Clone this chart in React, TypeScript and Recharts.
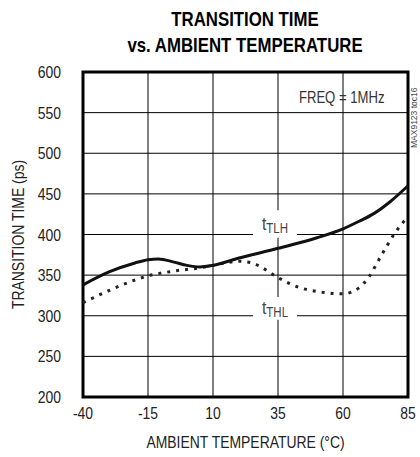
import React from "react";
import { LineChart, Line, XAxis, YAxis, CartesianGrid, ReferenceArea } from "recharts";

const xTicks = [-40, -15, 10, 35, 60, 85];
const yTicks = [200, 250, 300, 350, 400, 450, 500, 550, 600];

const tlhTemps = [-40, -30, -20, -15, -11, -5, 0, 5, 10, 20, 30, 35, 40, 50, 60, 66, 72, 78, 85];
const tlhValues = [338, 354, 365, 369, 370, 366, 362, 360, 362, 371, 379, 383, 387, 396, 407, 416, 426, 440, 460];

const thlTemps = [-40, -30, -20, -15, -5, 5, 10, 15, 20, 25, 29, 35, 43, 52, 60, 66, 70, 74, 80, 85];
const thlValues = [316, 331, 344, 349, 355, 359, 362, 365, 367, 365, 359, 347, 335, 329, 327, 334, 348, 370, 402, 422];

const tlhData = tlhTemps.map((t, i) => ({ t, v: tlhValues[i] }));
const thlData = thlTemps.map((t, i) => ({ t, v: thlValues[i] }));

const FONT = "'Liberation Sans', Arial, sans-serif";
const SX = 0.82;

const NarrowText = ({ x, y, angle = 0, anchor = "middle", size = 17, fill = "#222", children }: any) => (
  <text
    transform={`translate(${x},${y}) rotate(${angle}) scale(${SX},1)`}
    x={0}
    y={0}
    textAnchor={anchor}
    dominantBaseline="central"
    fontFamily={FONT}
    fontSize={size}
    fill={fill}
  >
    {children}
  </text>
);

const XTick = (props: any) => (
  <NarrowText x={props.x} y={props.y + 8} anchor="middle">
    {props.payload.value}
  </NarrowText>
);

const YTick = (props: any) => (
  <NarrowText x={props.x} y={props.y} anchor="end">
    {props.payload.value}
  </NarrowText>
);

const subLabel = (main: string, sub: string) => (props: any) => {
  const vb = props.viewBox || {};
  const cx = vb.x + vb.width / 2;
  const cy = vb.y + vb.height / 2;
  return (
    <text
      transform={`translate(${cx},${cy + 6}) scale(${SX},1)`}
      x={0}
      y={0}
      textAnchor="middle"
      fontFamily={FONT}
      fill="#444"
    >
      <tspan fontSize={19}>{main}</tspan>
      <tspan fontSize={14} dy={3}>{sub}</tspan>
    </text>
  );
};

const centerText = (value: string, size: number, fill: string) => (props: any) => {
  const vb = props.viewBox || {};
  return (
    <NarrowText x={vb.x + vb.width / 2} y={vb.y + vb.height / 2} size={size} fill={fill}>
      {value}
    </NarrowText>
  );
};

const XTitle = (props: any) => {
  const vb = props.viewBox || {};
  return (
    <NarrowText x={vb.x + vb.width / 2} y={vb.y + vb.height + 45} size={17}>
      AMBIENT TEMPERATURE (°C)
    </NarrowText>
  );
};

const YTitle = (props: any) => {
  const vb = props.viewBox || {};
  return (
    <NarrowText x={18} y={vb.y + vb.height / 2} angle={-90} size={17}>
      TRANSITION TIME (ps)
    </NarrowText>
  );
};

export default function App() {
  return (
    <div style={{ position: "absolute", left: 0, top: 0, width: 420, height: 457, background: "#fff" }}>
      <div
        style={{
          position: "absolute",
          left: 80,
          width: 330,
          top: 6,
          textAlign: "center",
          fontFamily: FONT,
          fontWeight: "bold",
          fontSize: 21,
          lineHeight: "26px",
          color: "#000",
          transform: "scaleX(0.8)",
          transformOrigin: "center",
        }}
      >
        TRANSITION TIME
        <br />
        vs. AMBIENT TEMPERATURE
      </div>
      <LineChart
        width={420}
        height={457}
        margin={{ top: 72, right: 12, bottom: 0, left: 0 }}
        style={{ position: "absolute", left: 0, top: 0 }}
      >
        <CartesianGrid stroke="#000" strokeWidth={1} />
        <XAxis
          type="number"
          dataKey="t"
          domain={[-40, 85]}
          ticks={xTicks}
          tickLine={false}
          axisLine={false}
          height={60}
          tick={<XTick />}
          allowDuplicatedCategory={false}
        />
        <YAxis
          type="number"
          domain={[200, 600]}
          ticks={yTicks}
          tickLine={false}
          axisLine={false}
          width={83}
          tickMargin={16}
          tick={<YTick />}
        />
        <ReferenceArea
          x1={25.4}
          x2={42.3}
          y1={396}
          y2={430}
          fill="#fff"
          fillOpacity={1}
          stroke="none"
          label={subLabel("t", "TLH")}
        />
        <ReferenceArea
          x1={25.4}
          x2={42.3}
          y1={295}
          y2={323}
          fill="#fff"
          fillOpacity={1}
          stroke="none"
          label={subLabel("t", "THL")}
        />
        <ReferenceArea
          x1={50}
          x2={69}
          y1={560}
          y2={578}
          fill="none"
          stroke="none"
          label={centerText("FREQ = 1MHz", 16, "#333")}
        />
        <Line
          data={thlData}
          dataKey="v"
          type="monotone"
          stroke="#222"
          strokeWidth={3}
          strokeDasharray="3 6"
          dot={false}
          isAnimationActive={false}
        />
        <Line
          data={tlhData}
          dataKey="v"
          type="monotone"
          stroke="#111"
          strokeWidth={3}
          dot={false}
          isAnimationActive={false}
        />
        <ReferenceArea
          x1={-40}
          x2={85}
          y1={200}
          y2={600}
          fill="none"
          stroke="#000"
          strokeWidth={3}
          label={(p: any) => (
            <g>
              <XTitle {...p} />
              <YTitle {...p} />
            </g>
          )}
        />
      </LineChart>
      <div
        style={{
          position: "absolute",
          left: 409,
          top: 72,
          width: 10,
          height: 76,
          fontFamily: FONT,
          fontSize: 8.5,
          lineHeight: "10px",
          color: "#444",
          writingMode: "vertical-rl",
          transform: "rotate(180deg)",
          whiteSpace: "nowrap",
        }}
      >
        MAX9123 toc16
      </div>
    </div>
  );
}
